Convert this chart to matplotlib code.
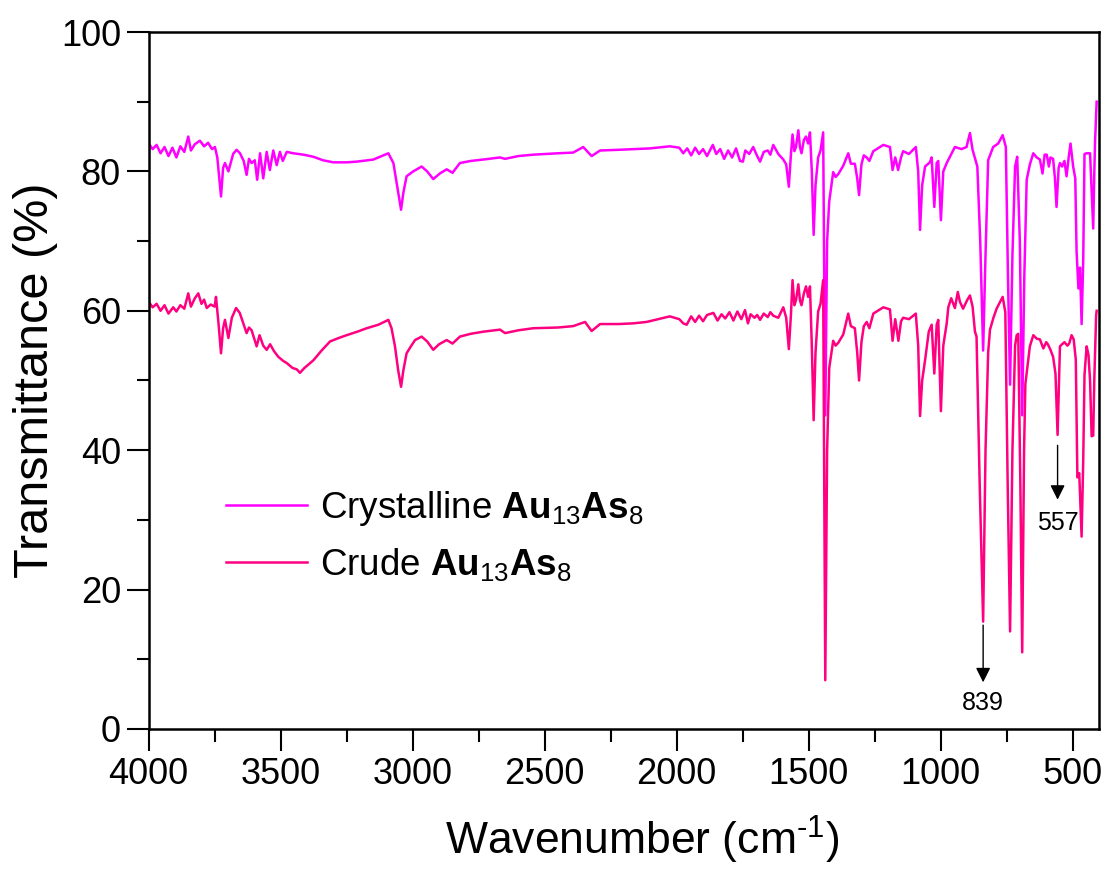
import numpy as np
import matplotlib.pyplot as plt
import matplotlib as mpl
from matplotlib.ticker import MultipleLocator

# FTIR spectra, (wavenumber cm-1, transmittance %)
crystalline = [
    (4000, 84.0), (3985, 83.2), (3970, 83.8), (3955, 82.6), (3940, 83.5), (3925, 82.2),
    (3910, 83.4), (3895, 82.0), (3880, 83.6), (3865, 82.8), (3850, 85.0), (3840, 83.0),
    (3825, 83.9), (3806, 84.4), (3790, 83.6), (3775, 84.1), (3760, 83.2), (3749, 83.5),
    (3740, 82.0), (3726, 76.4), (3718, 80.5), (3711, 81.2), (3698, 80.0), (3680, 82.5),
    (3667, 83.1), (3654, 82.6), (3640, 81.5), (3629, 79.5), (3620, 81.8), (3610, 81.2),
    (3598, 81.6), (3589, 78.8), (3578, 82.6), (3566, 79.0), (3553, 82.8), (3541, 80.2),
    (3528, 83.0), (3515, 80.9), (3503, 82.8), (3492, 81.5), (3477, 82.8), (3452, 82.6),
    (3414, 82.4), (3376, 82.1), (3340, 81.6), (3301, 81.3), (3250, 81.3), (3212, 81.4),
    (3149, 81.7), (3092, 82.6), (3073, 81.2), (3055, 77.0), (3044, 74.5), (3035, 77.0),
    (3023, 79.3), (2998, 80.0), (2966, 80.7), (2945, 80.0), (2922, 78.9), (2897, 79.7),
    (2871, 80.3), (2849, 79.8), (2821, 81.2), (2780, 81.5), (2733, 81.7), (2669, 82.0),
    (2650, 81.8), (2600, 82.2), (2543, 82.4), (2450, 82.6), (2392, 82.7), (2354, 83.5),
    (2322, 82.2), (2290, 83.0), (2220, 83.1), (2164, 83.2), (2101, 83.3), (2026, 83.6),
    (1990, 83.4), (1975, 82.6), (1960, 83.3), (1945, 82.3), (1930, 83.4), (1915, 82.5),
    (1900, 83.2), (1885, 82.2), (1863, 83.8), (1850, 82.5), (1835, 83.2), (1820, 81.8),
    (1805, 83.0), (1790, 82.0), (1775, 83.3), (1760, 81.5), (1749, 81.4), (1740, 83.0),
    (1725, 82.5), (1710, 83.5), (1695, 82.2), (1684, 81.4), (1670, 82.8), (1655, 83.0),
    (1645, 82.4), (1634, 83.8), (1615, 82.5), (1596, 81.7), (1585, 81.0), (1575, 77.8),
    (1567, 82.5), (1561, 85.3), (1554, 82.9), (1548, 83.5), (1539, 85.9), (1533, 83.5),
    (1527, 82.6), (1518, 84.5), (1510, 85.0), (1502, 84.0), (1495, 85.6), (1488, 80.0),
    (1481, 70.9), (1474, 78.0), (1464, 82.0), (1455, 83.0), (1445, 85.6), (1437, 45.0),
    (1430, 70.0), (1422, 75.7), (1407, 79.9), (1398, 79.2), (1388, 79.6), (1369, 80.8),
    (1350, 82.6), (1340, 81.1), (1325, 81.1), (1316, 79.0), (1309, 76.6), (1300, 81.0),
    (1291, 82.3), (1280, 82.0), (1270, 81.5), (1255, 82.9), (1217, 83.8), (1192, 83.5),
    (1182, 80.2), (1172, 82.0), (1161, 80.2), (1150, 82.0), (1142, 82.9), (1120, 82.5),
    (1094, 83.5), (1085, 80.0), (1078, 71.6), (1070, 78.0), (1059, 80.7), (1041, 81.3),
    (1034, 82.0), (1024, 74.9), (1015, 81.2), (1009, 81.5), (999, 73.0), (990, 80.0),
    (977, 81.2), (965, 82.1), (946, 83.5), (921, 83.2), (902, 83.5), (889, 85.5),
    (879, 83.1), (861, 80.7), (850, 70.0), (839, 54.3), (830, 68.0), (820, 81.6),
    (801, 83.5), (782, 84.0), (765, 85.2), (753, 83.5), (745, 65.0), (737, 49.4),
    (728, 68.0), (718, 80.7), (710, 82.1), (700, 70.0), (691, 45.0), (683, 65.0),
    (674, 78.8), (662, 81.0), (649, 82.6), (636, 82.0), (624, 81.7), (614, 79.7),
    (606, 82.4), (598, 82.4), (590, 80.7), (584, 82.0), (574, 81.8), (567, 79.0),
    (561, 74.9), (553, 80.5), (548, 81.2), (540, 80.7), (531, 81.5), (523, 79.3),
    (515, 82.0), (508, 84.0), (498, 80.7), (490, 79.0), (485, 68.5), (478, 63.2),
    (472, 66.2), (466, 58.1), (460, 67.0), (455, 82.5), (447, 82.6), (434, 82.6),
    (428, 77.3), (422, 71.8), (418, 79.7), (415, 84.3), (409, 90.0),
]

crude = [
    (4000, 61.3), (3985, 60.5), (3970, 61.0), (3955, 60.0), (3940, 60.8), (3925, 59.6),
    (3907, 60.5), (3895, 59.9), (3880, 60.8), (3865, 60.3), (3850, 62.5), (3840, 60.6),
    (3825, 61.8), (3812, 62.5), (3800, 61.0), (3790, 61.6), (3780, 60.4), (3765, 60.9),
    (3750, 60.6), (3745, 62.0), (3735, 58.0), (3726, 53.9), (3718, 57.5), (3711, 58.7),
    (3698, 56.1), (3685, 59.0), (3669, 60.4), (3655, 59.7), (3640, 58.0), (3629, 56.8),
    (3620, 57.6), (3610, 57.2), (3600, 56.0), (3591, 54.9), (3580, 56.5), (3566, 55.0),
    (3553, 54.4), (3540, 55.2), (3525, 54.2), (3509, 53.4), (3490, 52.8), (3477, 52.5),
    (3455, 51.8), (3439, 51.6), (3427, 51.1), (3410, 51.8), (3376, 52.9), (3345, 54.3),
    (3313, 55.6), (3280, 56.1), (3250, 56.5), (3210, 57.0), (3174, 57.5), (3130, 58.0),
    (3092, 58.7), (3080, 57.5), (3067, 54.9), (3055, 51.5), (3044, 49.1), (3035, 51.5),
    (3023, 53.9), (3005, 55.0), (2991, 55.8), (2966, 56.3), (2945, 55.6), (2922, 54.4),
    (2900, 55.2), (2871, 55.8), (2849, 55.3), (2821, 56.3), (2780, 56.7), (2733, 57.0),
    (2669, 57.3), (2650, 56.8), (2600, 57.2), (2543, 57.5), (2450, 57.6), (2392, 57.8),
    (2347, 58.4), (2322, 57.1), (2290, 58.1), (2220, 58.1), (2164, 58.2), (2114, 58.4),
    (2060, 58.9), (2026, 59.2), (1990, 58.8), (1975, 58.2), (1962, 58.0), (1945, 59.2),
    (1930, 58.4), (1915, 59.3), (1900, 58.5), (1885, 59.4), (1861, 59.7), (1845, 58.6),
    (1830, 59.5), (1816, 58.9), (1800, 59.8), (1785, 58.6), (1770, 59.9), (1755, 58.8),
    (1741, 60.1), (1730, 58.2), (1720, 59.5), (1705, 59.0), (1695, 59.4), (1684, 58.7),
    (1670, 59.6), (1655, 59.1), (1645, 59.8), (1634, 59.3), (1615, 59.0), (1596, 60.5),
    (1585, 59.0), (1575, 54.5), (1567, 59.5), (1561, 64.4), (1554, 60.8), (1548, 61.5),
    (1539, 63.8), (1533, 61.5), (1527, 60.8), (1518, 62.5), (1510, 63.5), (1502, 62.0),
    (1495, 63.5), (1488, 55.0), (1481, 44.3), (1474, 54.0), (1464, 59.9), (1455, 61.0),
    (1445, 64.4), (1437, 7.0), (1430, 40.0), (1422, 51.8), (1407, 55.7), (1398, 55.0),
    (1388, 55.4), (1369, 56.6), (1350, 59.6), (1340, 57.8), (1325, 57.5), (1316, 54.0),
    (1309, 50.0), (1300, 55.5), (1291, 57.8), (1280, 58.4), (1270, 57.5), (1255, 59.6),
    (1217, 60.5), (1192, 60.2), (1182, 55.7), (1172, 58.8), (1160, 55.7), (1150, 58.5),
    (1142, 59.0), (1120, 58.8), (1094, 59.6), (1085, 55.0), (1078, 44.9), (1070, 50.0),
    (1059, 52.9), (1045, 57.0), (1034, 58.0), (1024, 51.0), (1015, 58.0), (1009, 58.7),
    (999, 45.6), (990, 55.0), (977, 58.2), (971, 60.5), (960, 61.8), (946, 60.4),
    (935, 62.7), (927, 61.3), (915, 60.3), (900, 61.5), (889, 62.2), (879, 60.6),
    (870, 57.0), (864, 56.3), (852, 35.0), (839, 15.4), (830, 40.0), (820, 54.0),
    (813, 57.3), (800, 59.0), (788, 60.3), (765, 62.0), (755, 59.8), (746, 35.0),
    (737, 14.0), (728, 40.0), (718, 55.0), (712, 56.5), (706, 56.7), (698, 35.0),
    (691, 11.0), (684, 40.0), (679, 49.5), (662, 54.9), (649, 56.5), (636, 56.0),
    (624, 55.9), (611, 54.6), (600, 55.5), (594, 55.2), (585, 54.5), (574, 53.4),
    (565, 51.0), (557, 42.2), (550, 52.0), (548, 54.9), (540, 55.2), (531, 55.5),
    (520, 55.0), (513, 55.3), (504, 56.5), (496, 55.9), (488, 53.0), (482, 36.1),
    (475, 36.7), (466, 27.6), (460, 38.3), (455, 50.8), (447, 54.9), (440, 53.7),
    (434, 50.0), (428, 42.0), (422, 42.1), (418, 50.0), (411, 59.3), (409, 60.0),
]

# marked bands: (wavenumber, arrow tail, arrow tip, label y)
peaks = [(839, 14.9, 6.7, 3.7), (557, 40.7, 32.9, 29.6)]

labels = [r'Crystalline $\mathbf{Au}_{13}\mathbf{As}_{8}$',
          r'Crude $\mathbf{Au}_{13}\mathbf{As}_{8}$']
colors = ['#FF00FF', '#FF0080']

mpl.rcParams.update({
    'font.family': 'Liberation Sans',
    'mathtext.fontset': 'custom',
    'mathtext.rm': 'Liberation Sans',
    'mathtext.bf': 'Liberation Sans:bold',
    'mathtext.it': 'Liberation Sans:italic',
})

fig = plt.figure(figsize=(11.07, 8.72), dpi=100)
ax = fig.add_axes([0.1343, 0.164, 0.8585, 0.7993])

for data, lab, col in zip([crystalline, crude], labels, colors):
    wn, tr = np.array(data).T
    ax.plot(wn, tr, color=col, lw=1.8, label=lab)

for wn, y0, y1, yt in peaks:
    ax.annotate('', xy=(wn, y1), xytext=(wn, y0),
                arrowprops=dict(arrowstyle='-|>', color='black', lw=1.0,
                                mutation_scale=22, shrinkA=0, shrinkB=0))
    ax.text(wn, yt, str(wn), ha='center', va='center', fontsize=18)

ax.set_xlim(4000, 400)
ax.set_ylim(0, 100)
ax.xaxis.set_major_locator(MultipleLocator(500))
ax.xaxis.set_minor_locator(MultipleLocator(250))
ax.yaxis.set_major_locator(MultipleLocator(20))
ax.yaxis.set_minor_locator(MultipleLocator(10))
ax.tick_params(which='both', direction='out', width=1.5, labelsize=26, pad=4)
ax.tick_params(which='major', length=16)
ax.tick_params(which='minor', length=9)
for s in ax.spines.values():
    s.set_linewidth(1.8)

ax.set_xlabel(r'Wavenumber (cm$^{\text{-1}}$)', fontsize=32)
ax.xaxis.set_label_coords(0.519, -0.122)
ax.set_ylabel('Transmittance (%)', fontsize=35, labelpad=2)

ax.legend(loc='upper left', bbox_to_anchor=(0.047, 0.392), frameon=False,
          fontsize=26.5, handlelength=2.2, handletextpad=0.33, labelspacing=0.5)

fig.savefig('out.png', dpi=100)
